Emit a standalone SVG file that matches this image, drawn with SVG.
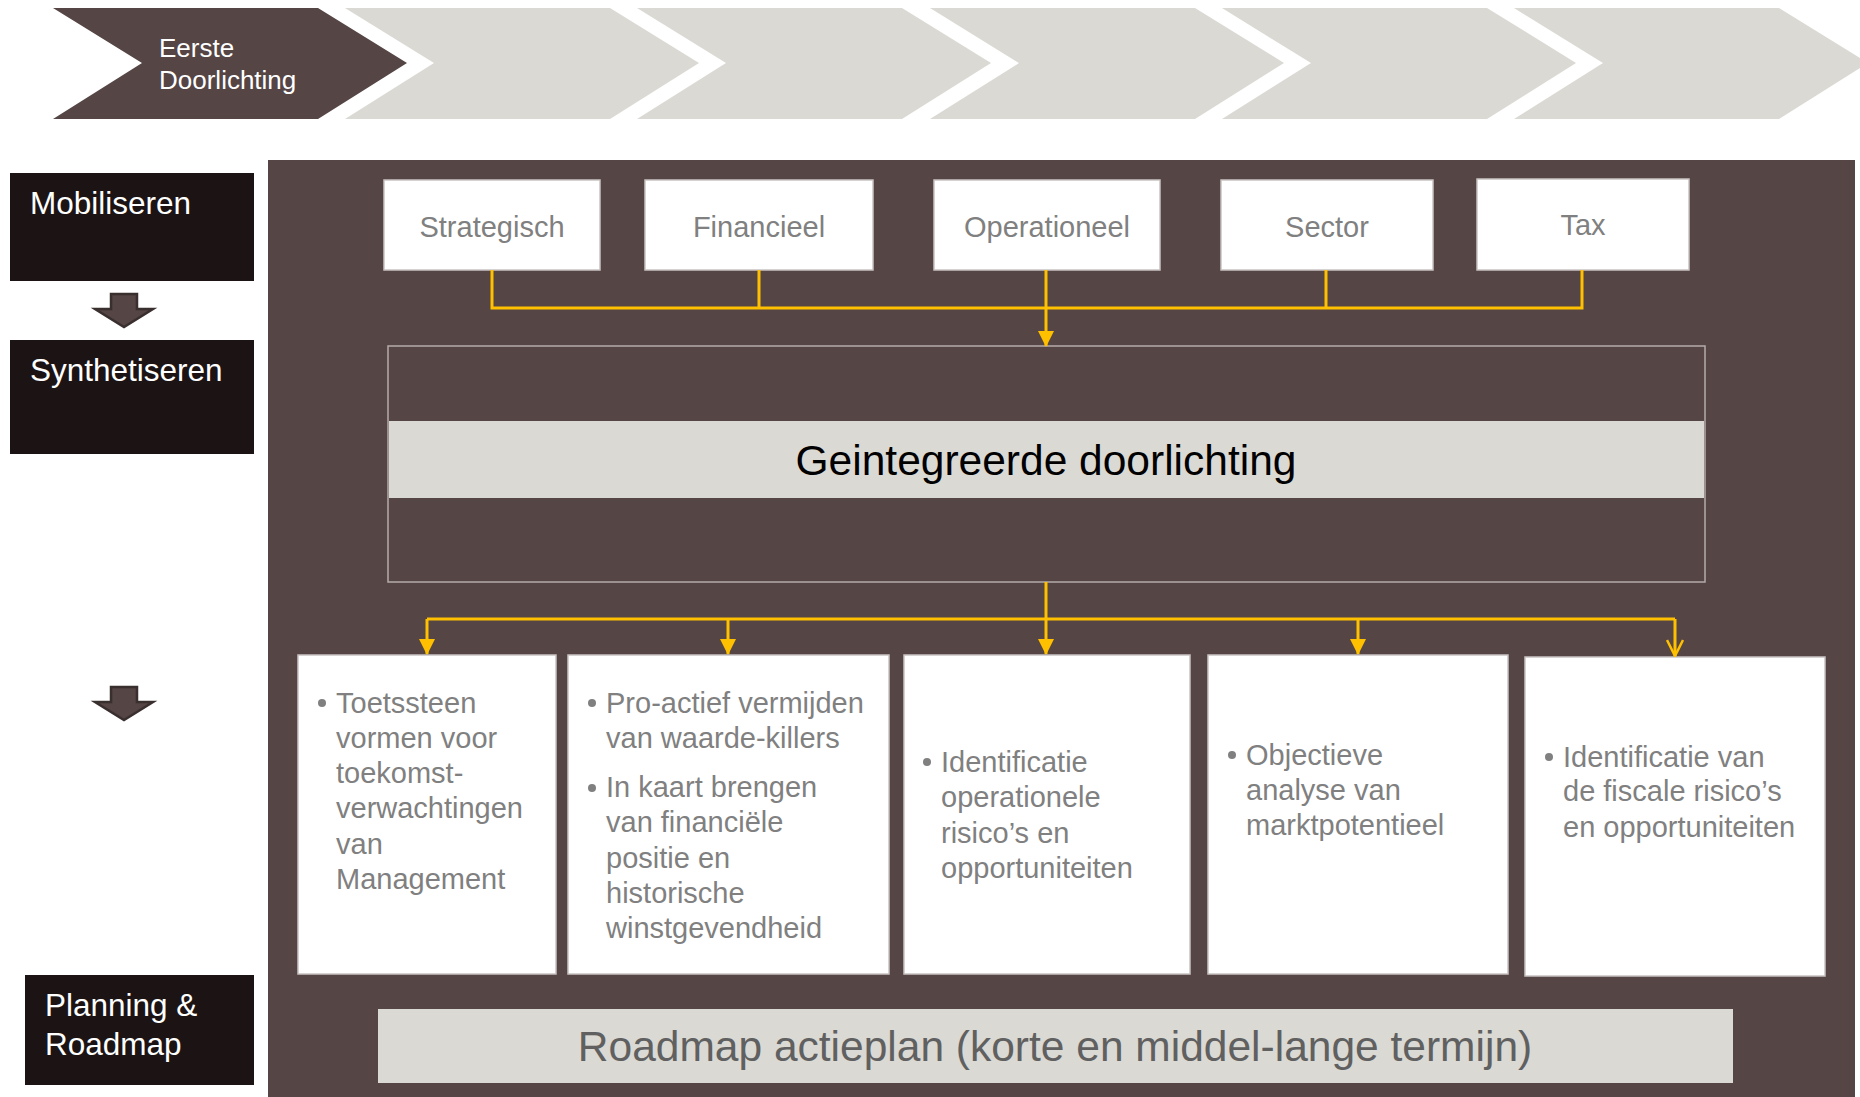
<svg xmlns="http://www.w3.org/2000/svg" width="1860" height="1097" viewBox="0 0 1860 1097">
<style>
  .chev-dark { fill: #554545; }
  .chev { fill: #DAD9D4; }
  .phase { fill: #1C1414; }
  .phase-t { font-family: "Liberation Sans", Arial, sans-serif; font-size: 31.5px; fill: #FFFFFF; }
  .panel { fill: #554545; }
  .topbox { fill: #FFFFFF; stroke: #C9C3C3; stroke-width: 1.5; }
  .top-t { font-family: "Liberation Sans", Arial, sans-serif; font-size: 29px; fill: #808080; text-anchor: middle; }
  .botbox { fill: #FFFFFF; stroke: #C9C3C3; stroke-width: 1.5; }
  .bul-t { font-family: "Liberation Sans", Arial, sans-serif; font-size: 29px; fill: #808080; }
  .bul { fill: #808080; }
  .conn { fill: none; stroke: #FFC000; stroke-width: 3; }
  .darrow { fill: #554545; stroke: #3A2F2F; stroke-width: 2.5; stroke-linejoin: miter; }
</style>
<defs>
  <marker id="tri" viewBox="0 0 16 16" refX="15" refY="8" markerWidth="16" markerHeight="16" markerUnits="userSpaceOnUse" orient="auto">
    <path d="M0,0 L16,8 L0,16 z" fill="#FFC000"/>
  </marker>
  <marker id="vee" viewBox="0 0 18 18" refX="17" refY="9" markerWidth="18" markerHeight="18" markerUnits="userSpaceOnUse" orient="auto">
    <path d="M1,1 L17,9 L1,17" fill="none" stroke="#FFC000" stroke-width="2.5"/>
  </marker>
</defs>

<rect width="1860" height="1097" fill="#FFFFFF"/>

<!-- Chevron process row -->
<g id="chevrons">
  <g id="chev1">
    <polygon class="chev-dark" points="53,8 318,8 407,63 318,119 53,119 142,63"/>
    <text x="159" y="57" font-family="Liberation Sans, Arial, sans-serif" font-size="26" fill="#FFFFFF">Eerste</text>
    <text x="159" y="89" font-family="Liberation Sans, Arial, sans-serif" font-size="26" fill="#FFFFFF">Doorlichting</text>
  </g>
  <polygon id="chev2" class="chev" points="345,8 610,8 699,63 610,119 345,119 434,63"/>
  <polygon id="chev3" class="chev" points="637,8 902,8 991,63 902,119 637,119 726,63"/>
  <polygon id="chev4" class="chev" points="930,8 1195,8 1284,63 1195,119 930,119 1019,63"/>
  <polygon id="chev5" class="chev" points="1222,8 1487,8 1576,63 1487,119 1222,119 1311,63"/>
  <polygon id="chev6" class="chev" points="1514,8 1779,8 1868,63 1779,119 1514,119 1603,63"/>
</g>

<!-- Left phase column -->
<g id="phase-mobiliseren">
  <rect class="phase" x="10" y="173" width="244" height="108"/>
  <text class="phase-t" x="30" y="214">Mobiliseren</text>
</g>
<g id="phase-arrow1">
  <polygon class="darrow" points="111,294 137,294 137,309 153,309 124,327 95,309 111,309"/>
</g>
<g id="phase-synthetiseren">
  <rect class="phase" x="10" y="340" width="244" height="114"/>
  <text class="phase-t" x="30" y="381">Synthetiseren</text>
</g>
<g id="phase-arrow2">
  <polygon class="darrow" points="111,687 137,687 137,702 153,702 124,720 95,702 111,702"/>
</g>
<g id="phase-planning">
  <rect class="phase" x="25" y="975" width="229" height="110"/>
  <text class="phase-t" x="45" y="1016">Planning &amp;</text>
  <text class="phase-t" x="45" y="1055">Roadmap</text>
</g>

<!-- Main panel -->
<rect id="panel" class="panel" x="268" y="160" width="1587" height="937"/>

<!-- Top boxes -->
<g id="box-strategisch">
  <rect class="topbox" x="384" y="180" width="216" height="90"/>
  <text class="top-t" x="492" y="237">Strategisch</text>
</g>
<g id="box-financieel">
  <rect class="topbox" x="645" y="180" width="228" height="90"/>
  <text class="top-t" x="759" y="237">Financieel</text>
</g>
<g id="box-operationeel">
  <rect class="topbox" x="934" y="180" width="226" height="90"/>
  <text class="top-t" x="1047" y="237">Operationeel</text>
</g>
<g id="box-sector">
  <rect class="topbox" x="1221" y="180" width="212" height="90"/>
  <text class="top-t" x="1327" y="237">Sector</text>
</g>
<g id="box-tax">
  <rect class="topbox" x="1477" y="179" width="212" height="91"/>
  <text class="top-t" x="1583" y="235">Tax</text>
</g>

<!-- Integrated box -->
<g id="box-geintegreerd">
  <rect x="388" y="346" width="1317" height="236" fill="none" stroke="#B5ABAB" stroke-width="1.5"/>
  <rect x="389" y="421" width="1315" height="77" fill="#DAD9D4"/>
  <text x="1046" y="475" font-family="Liberation Sans, Arial, sans-serif" font-size="42.5" fill="#000000" text-anchor="middle">Geintegreerde doorlichting</text>
</g>

<!-- Bottom boxes -->
<g id="box-toetssteen">
  <rect class="botbox" x="298" y="655" width="258" height="319"/>
  <circle class="bul" cx="322" cy="703" r="4"/>
  <text class="bul-t" x="336" y="713">Toetssteen</text>
  <text class="bul-t" x="336" y="748">vormen voor</text>
  <text class="bul-t" x="336" y="783">toekomst-</text>
  <text class="bul-t" x="336" y="818">verwachtingen</text>
  <text class="bul-t" x="336" y="854">van</text>
  <text class="bul-t" x="336" y="889">Management</text>
</g>
<g id="box-proactief">
  <rect class="botbox" x="568" y="655" width="321" height="319"/>
  <circle class="bul" cx="592" cy="703" r="4"/>
  <text class="bul-t" x="606" y="713">Pro-actief vermijden</text>
  <text class="bul-t" x="606" y="748">van waarde-killers</text>
  <circle class="bul" cx="592" cy="788" r="4"/>
  <text class="bul-t" x="606" y="797">In kaart brengen</text>
  <text class="bul-t" x="606" y="832">van financiële</text>
  <text class="bul-t" x="606" y="868">positie en</text>
  <text class="bul-t" x="606" y="903">historische</text>
  <text class="bul-t" x="606" y="938">winstgevendheid</text>
</g>
<g id="box-identificatie-op">
  <rect class="botbox" x="904" y="655" width="286" height="319"/>
  <circle class="bul" cx="927" cy="762" r="4"/>
  <text class="bul-t" x="941" y="772">Identificatie</text>
  <text class="bul-t" x="941" y="807">operationele</text>
  <text class="bul-t" x="941" y="843">risico’s en</text>
  <text class="bul-t" x="941" y="878">opportuniteiten</text>
</g>
<g id="box-objectieve">
  <rect class="botbox" x="1208" y="655" width="300" height="319"/>
  <circle class="bul" cx="1232" cy="755" r="4"/>
  <text class="bul-t" x="1246" y="765">Objectieve</text>
  <text class="bul-t" x="1246" y="800">analyse van</text>
  <text class="bul-t" x="1246" y="835">marktpotentieel</text>
</g>
<g id="box-fiscaal">
  <rect class="botbox" x="1525" y="657" width="300" height="319"/>
  <circle class="bul" cx="1549" cy="757" r="4"/>
  <text class="bul-t" x="1563" y="767">Identificatie van</text>
  <text class="bul-t" x="1563" y="801">de fiscale risico’s</text>
  <text class="bul-t" x="1563" y="837">en opportuniteiten</text>
</g>

<!-- Roadmap band -->
<g id="box-roadmap">
  <rect x="378" y="1009" width="1355" height="74" fill="#DAD9D4"/>
  <text x="1055" y="1061" font-family="Liberation Sans, Arial, sans-serif" font-size="42.5" fill="#606060" text-anchor="middle">Roadmap actieplan (korte en middel-lange termijn)</text>
</g>

<!-- Connectors -->
<g id="connectors">
  <path class="conn" d="M492,270 V308 H1582 V270"/>
  <path class="conn" d="M759,270 V308"/>
  <path class="conn" d="M1326,270 V308"/>
  <path class="conn" d="M1046,270 V346" marker-end="url(#tri)"/>
  <path class="conn" d="M1046,582 V619"/>
  <path class="conn" d="M427,619 H1675"/>
  <path class="conn" d="M427,619 V654" marker-end="url(#tri)"/>
  <path class="conn" d="M728,619 V654" marker-end="url(#tri)"/>
  <path class="conn" d="M1046,619 V654" marker-end="url(#tri)"/>
  <path class="conn" d="M1358,619 V654" marker-end="url(#tri)"/>
  <path class="conn" d="M1675,619 V656" marker-end="url(#vee)"/>
</g>
</svg>
